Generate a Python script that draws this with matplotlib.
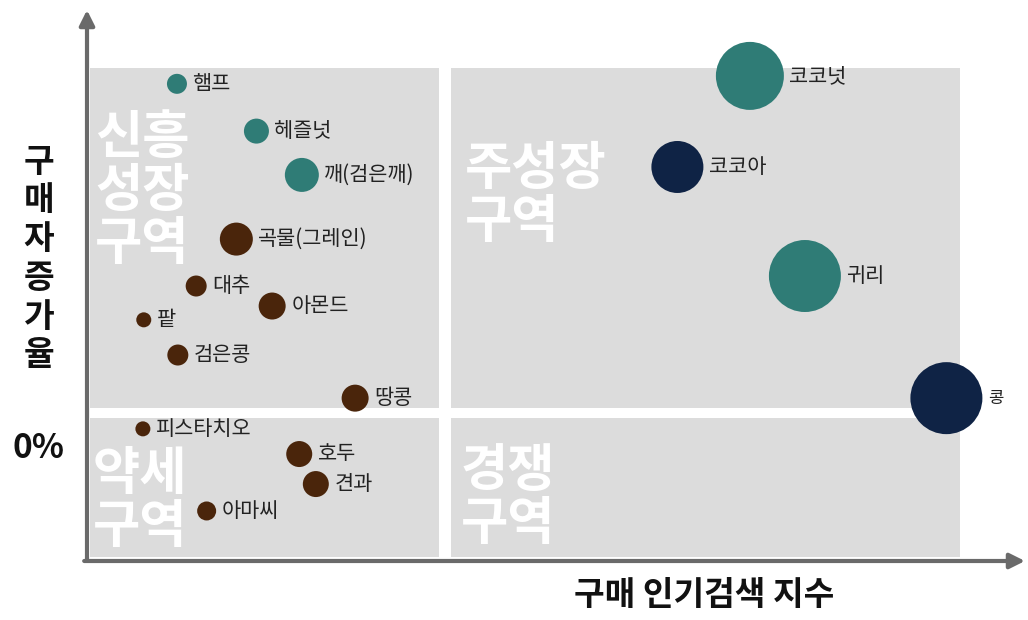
import matplotlib.pyplot as plt
from matplotlib.patches import Rectangle

plt.rcParams['font.family'] = ['Noto Sans CJK KR', 'DejaVu Sans']

# 품목별 데이터
items = ['햄프', '헤즐넛', '깨(검은깨)', '곡물(그레인)', '대추', '아몬드', '팥', '검은콩',
         '땅콩', '피스타치오', '호두', '견과', '아마씨', '코코넛', '코코아', '귀리', '콩']
search_idx = [10.3, 19.4, 24.6, 17.1, 12.5, 21.2, 6.5, 10.4,
              30.7, 6.4, 24.3, 26.2, 13.7, 75.9, 67.6, 82.2, 98.4]
growth = [95.4, 81.7, 69.0, 50.4, 36.8, 31.0, 27.0, 16.8,
          4.3, -4.6, -11.9, -20.6, -28.4, 97.7, 71.3, 39.7, 4.3]
volume = [10, 12.5, 17, 16.5, 10.5, 13.5, 7.5, 10.5,
          13.5, 7.5, 13, 13, 9.5, 34, 26, 36, 36]
group = [0, 0, 0, 1, 1, 1, 1, 1, 1, 1, 1, 1, 1, 0, 2, 0, 2]

palette = {0: '#2f7c76', 1: '#4a250b', 2: '#0f2345'}
zone_gray = '#dcdcdc'
axis_gray = '#6a6a6a'

fig = plt.figure(figsize=(10.28, 6.2), dpi=100)
ax = fig.add_axes([87 / 1028, 59 / 620, 938 / 1028, 551 / 620])
ax.set_xlim(0, 107.4)
ax.set_ylim(-42.9, 116.8)
ax.axis('off')

# 4개 구역 배경
zones = [(0.3, 1.45, 40.0, 98.55), (41.7, 1.45, 58.3, 98.55),
         (0.3, -41.7, 40.0, 40.25), (41.7, -41.7, 58.3, 40.25)]
for x0, y0, w, h in zones:
    ax.add_patch(Rectangle((x0, y0), w, h, facecolor=zone_gray, edgecolor='none', zorder=0))

# 구역 이름
zone_kw = dict(color='white', fontsize=37, fontweight='bold', va='top', ha='left',
               linespacing=1.0, zorder=1)
ax.text(0.9, 87.5, '신흥\n성장\n구역', **zone_kw)
ax.text(43.3, 78.5, '주성장\n구역', **zone_kw)
ax.text(0.7, -10.0, '약세\n구역', **zone_kw)
ax.text(42.8, -9.0, '경쟁\n구역', **zone_kw)

# 축 화살표
arrow = dict(arrowstyle='-|>,head_length=0.9,head_width=0.45', color=axis_gray, lw=3,
             shrinkA=0, shrinkB=0)
ax.annotate('', xy=(0, 1), xytext=(0, 0), xycoords='axes fraction', arrowprops=arrow)
ax.annotate('', xy=(1, 0), xytext=(-0.003, 0), xycoords='axes fraction', arrowprops=arrow)

# 버블
for name, x, y, v, g in zip(items, search_idx, growth, volume, group):
    d = 2 * v * 0.72
    ax.scatter(x, y, s=d ** 2, color=palette[g], edgecolors='none', zorder=3)
    fs = 12 if name == '콩' else 15
    ax.annotate(name, (x, y), xytext=(v * 0.72 + 4, 0), textcoords='offset points',
                va='center', ha='left', fontsize=fs, color='#222222', zorder=4)

# 축 제목
fig.text(39 / 1028, 1 - 259 / 620, '구\n매\n자\n증\n가\n율', ha='center', va='center',
         fontsize=24, fontweight='bold', linespacing=1.22, color='#111111')
fig.text(38 / 1028, 1 - 448 / 620, '0%', ha='center', va='center',
         fontsize=24, fontweight='bold', color='#111111')
fig.text(704 / 1028, 1 - 596 / 620, '구매 인기검색 지수', ha='center', va='center',
         fontsize=24, fontweight='bold', color='#111111')

fig.savefig('out.png', dpi=100)
